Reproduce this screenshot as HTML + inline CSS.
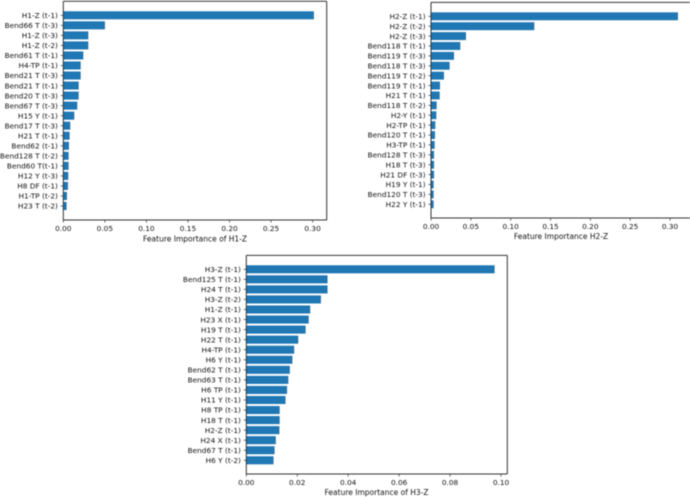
<!DOCTYPE html>
<html>
<head>
<meta charset="utf-8">
<style>
html,body{margin:0;padding:0;background:#fff;width:690px;height:497px;overflow:hidden}
svg{display:block;font-family:"DejaVu Sans","Liberation Sans",sans-serif;filter:blur(0.45px)}
</style>
</head>
<body>
<svg id="fig" width="690" height="497" viewBox="0 0 690 497" xmlns="http://www.w3.org/2000/svg"></svg>
<script>
const labelsH1 = ["H1-Z (t-1)","Bend66 T (t-3)","H1-Z (t-3)","H1-Z (t-2)","Bend61 T (t-1)","H4-TP (t-1)","Bend21 T (t-3)","Bend21 T (t-1)","Bend20 T (t-3)","Bend67 T (t-3)","H15 Y (t-1)","Bend17 T (t-3)","H21 T (t-1)","Bend62 (t-1)","Bend128 T (t-2)","Bend60 T(t-1)","H12 Y (t-3)","H8 DF (t-1)","H1-TP (t-2)","H23 T (t-2)"];
const valuesH1 = [0.3016,0.0501,0.0301,0.0301,0.0241,0.0209,0.0209,0.0185,0.0185,0.0168,0.0132,0.0084,0.0076,0.0068,0.0064,0.0064,0.006,0.0056,0.0044,0.004];
const ticksH1 = [0,0.05,0.10,0.15,0.20,0.25,0.30];

const labelsH2 = ["H2-Z (t-1)","H2-Z (t-2)","H2-Z (t-3)","Bend118 T (t-1)","Bend119 T (t-3)","Bend118 T (t-3)","Bend119 T (t-2)","Bend119 T (t-1)","H21 T (t-1)","Bend118 T (t-2)","H2-Y (t-1)","H2-TP (t-1)","Bend120 T (t-1)","H3-TP (t-1)","Bend128 T (t-3)","H18 T (t-3)","H21 DF (t-3)","H19 Y (t-1)","Bend120 T (t-3)","H22 Y (t-1)"];
const valuesH2 = [0.31,0.1297,0.0439,0.0368,0.0289,0.0234,0.0163,0.0113,0.0109,0.0071,0.0067,0.0054,0.005,0.0046,0.0038,0.0038,0.0038,0.0033,0.0033,0.0033];
const ticksH2 = [0,0.05,0.10,0.15,0.20,0.25,0.30];

const labelsH3 = ["H3-Z (t-1)","Bend125 T (t-1)","H24 T (t-1)","H3-Z (t-2)","H1-Z (t-1)","H23 X (t-1)","H19 T (t-1)","H22 T (t-1)","H4-TP (t-1)","H6 Y (t-1)","Bend62 T (t-1)","Bend63 T (t-1)","H6 TP (t-1)","H11 Y (t-1)","H8 TP (t-1)","H18 T (t-1)","H2-Z (t-1)","H24 X (t-1)","Bend67 T (t-1)","H6 Y (t-2)"];
const valuesH3 = [0.0975,0.0319,0.0319,0.0293,0.0251,0.0245,0.0233,0.0204,0.0188,0.0181,0.0171,0.0165,0.016,0.0154,0.0131,0.0131,0.013,0.0116,0.0111,0.0107];
const ticksH3 = [0,0.02,0.04,0.06,0.08,0.10];

const svg = document.getElementById('fig');
const NS = 'http://www.w3.org/2000/svg';
function mk(tag, attrs, parent){
  const e = document.createElementNS(NS, tag);
  for (const k in attrs) e.setAttribute(k, attrs[k]);
  parent.appendChild(e);
  return e;
}
function drawChart(c){
  const g = mk('g', {}, svg);
  
  
  const xScale = v => c.left + v * c.unit;
  const n = c.labels.length;
  const yScale = i => c.firstY + i * (c.lastY - c.firstY) / (n - 1);
  const barH = (c.lastY - c.firstY) / (n - 1) * 0.8;

  c.values.forEach((v, i) => {
    const b = mk('rect', {x: c.left, y: yScale(i) - barH / 2, width: xScale(v) - c.left, height: barH, fill: '#1f77b4'}, g);
    
    
    const tk = mk('line', {x1: c.left - 2.6, x2: c.left, y1: yScale(i), y2: yScale(i), stroke: '#333', 'stroke-width': 0.7}, g);
    
    
    const t = mk('text', {x: c.left - 5.4, y: yScale(i) + 2.7, 'text-anchor': 'end', 'font-size': 7.35, fill: '#111'}, g);
    t.textContent = c.labels[i];
    
    
  });

  c.ticks.forEach(v => {
    const x = xScale(v);
    const tk = mk('line', {x1: x, x2: x, y1: c.bottom, y2: c.bottom + 2.6, stroke: '#333', 'stroke-width': 0.7}, g);
    
    
    const t = mk('text', {x: x, y: c.bottom + 11, 'text-anchor': 'middle', 'font-size': 7.35, fill: '#111'}, g);
    t.textContent = v.toFixed(2);
    
    
  });

  const spineAttrs = {stroke: '#333', 'stroke-width': 1};
  const spines = [[c.left, c.top, c.left, c.bottom],[c.left, c.top, c.right, c.top],[c.left, c.bottom, c.right, c.bottom],[c.right, c.top, c.right, c.bottom]];
  spines.forEach(s => {
    const l = mk('line', Object.assign({x1: s[0], y1: s[1], x2: s[2], y2: s[3]}, spineAttrs), g);
    
    
  });

  const title = mk('text', {x: c.titleX, y: c.titleY, 'text-anchor': 'middle', 'font-size': 7.5, fill: '#111'}, g);
  title.textContent = c.title;
  
  
}

drawChart({name:'h1-z', labels:labelsH1, values:valuesH1, ticks:ticksH1, left:63.3, right:326.7, top:1.2, bottom:220, unit:831, firstY:15.3, lastY:206, title:'Feature Importance of H1-Z', titleX:195, titleY:241.5});
drawChart({name:'h2-z', labels:labelsH2, values:valuesH2, ticks:ticksH2, left:431, right:690.5, top:2.4, bottom:218, unit:796.7, firstY:16.3, lastY:204.3, title:'Feature Importance H2-Z', titleX:561, titleY:239});
drawChart({name:'h3-z', labels:labelsH3, values:valuesH3, ticks:ticksH3, left:246.3, right:507.3, top:255.4, bottom:474, unit:2547, firstY:269.3, lastY:460.3, title:'Feature Importance of H3-Z', titleX:376.5, titleY:495});
</script>
</body>
</html>
